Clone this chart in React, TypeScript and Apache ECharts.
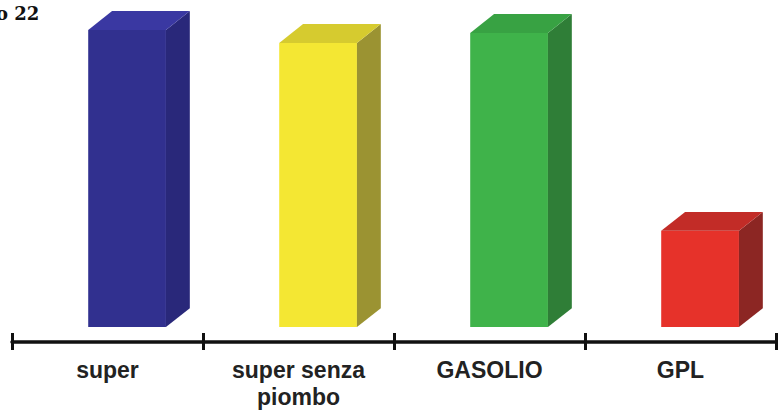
import React, { useEffect, useRef } from "react";
import * as echarts from "echarts";

const categories = ["super", "super senza\npiombo", "GASOLIO", "GPL"];
const values = [99.7, 95.3, 98.7, 32.3];
const titleText = "o 22";

const frontColors = ["#31308f", "#f4e733", "#3fb34a", "#e6322a"];
const topColors = ["#3a38a2", "#d6cb2f", "#38a243", "#c22c27"];
const sideColors = ["#29287a", "#9b9332", "#2f7e37", "#8c2623"];

export default function App() {
  const ref = useRef<HTMLDivElement>(null);
  useEffect(() => {
    if (!ref.current) return;
    const chart = echarts.init(ref.current, undefined, { renderer: "svg" });
    const option = {
      animation: false,
      backgroundColor: "#ffffff",
      graphic: [
        {
          type: "text",
          left: -4,
          top: 4,
          style: {
            text: titleText,
            fontFamily: "DejaVu Serif",
            fontWeight: "bold",
            fontSize: 18,
            fill: "#111",
          },
        },
      ],
      grid: { left: 12, right: 2, top: 29, bottom: 66, containLabel: false },
      xAxis: [
        {
          type: "category",
          data: categories,
          boundaryGap: true,
          axisLine: { show: true, onZero: false, lineStyle: { color: "#111", width: 3.5 } },
          axisTick: { show: true, inside: false, length: 8, lineStyle: { color: "#111", width: 3 } },
          axisLabel: {
            margin: 14,
            fontFamily: "Liberation Sans",
            fontWeight: "bold",
            fontSize: 23,
            lineHeight: 27,
            color: "#222",
            interval: 0,
          },
          splitLine: { show: false },
        },
        {
          type: "category",
          data: categories,
          position: "bottom",
          boundaryGap: true,
          axisLine: { show: false, onZero: false },
          axisTick: { show: true, inside: true, length: 9, lineStyle: { color: "#111", width: 3 } },
          axisLabel: { show: false },
          splitLine: { show: false },
        },
      ],
      yAxis: { type: "value", min: -5, max: 100, show: false, splitLine: { show: false } },
      series: [
        {
          type: "custom",
          xAxisIndex: 0,
          encode: { x: 0, y: 1 },
          data: categories.map((_, i) => [i, values[i]]),
          renderItem: (params: any, api: any) => {
            const idx = api.value(0);
            const val = api.value(1);
            const top = api.coord([idx, val]);
            const base = api.coord([idx, 0]);
            const band = api.size([1, 0])[0];
            const x0 = top[0] - band * 0.101;
            const x1 = top[0] + band * 0.306;
            const dx = band * 0.125;
            const dy = band * 0.099;
            const ty = top[1];
            const by = base[1];
            return {
              type: "group",
              children: [
                {
                  type: "polygon",
                  shape: { points: [[x0, ty], [x1, ty], [x1, by], [x0, by]] },
                  style: { fill: frontColors[idx] },
                },
                {
                  type: "polygon",
                  shape: { points: [[x1, ty], [x1 + dx, ty - dy], [x1 + dx, by - dy], [x1, by]] },
                  style: { fill: sideColors[idx] },
                },
                {
                  type: "polygon",
                  shape: { points: [[x0, ty], [x0 + dx, ty - dy], [x1 + dx, ty - dy], [x1, ty]] },
                  style: { fill: topColors[idx] },
                },
              ],
            };
          },
        },
      ],
    };
    chart.setOption(option);
    return () => chart.dispose();
  }, []);
  return <div ref={ref} style={{ width: 778, height: 410, position: "absolute", left: 0, top: 0 }} />;
}
